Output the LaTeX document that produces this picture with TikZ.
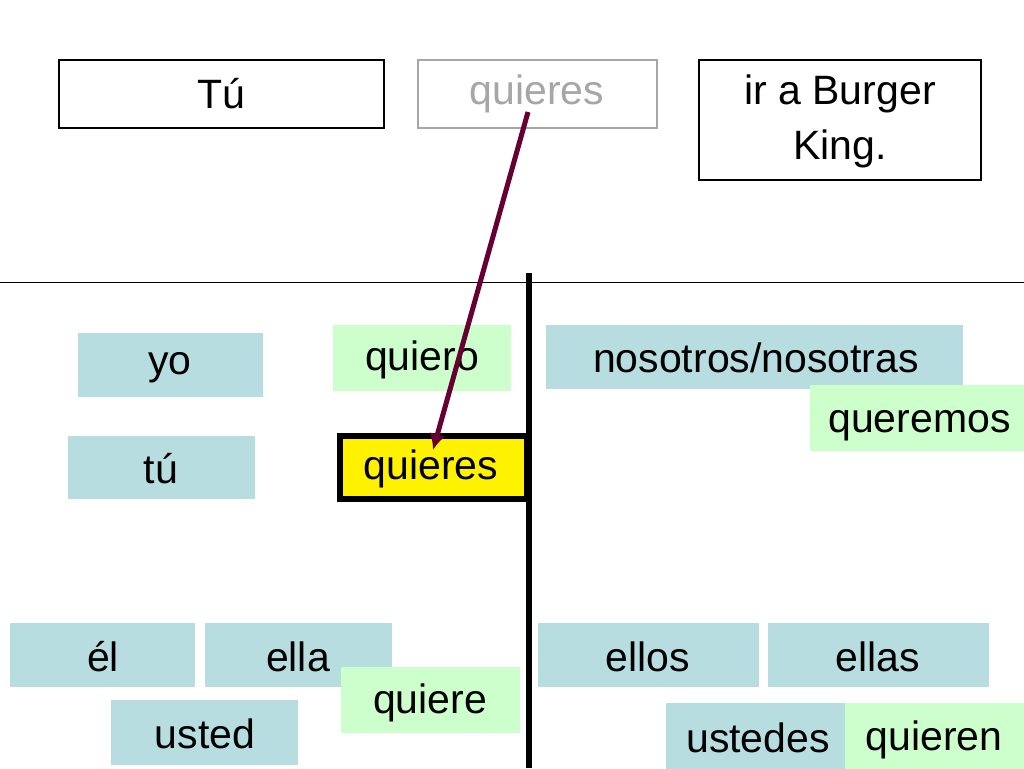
\documentclass[tikz,border=0pt]{standalone}
\usepackage{fontspec}
\setmainfont{Liberation Sans}
\usetikzlibrary{arrows.meta}
\definecolor{lblue}{RGB}{183,221,224}
\definecolor{lgreen}{RGB}{204,255,204}
\definecolor{maroon}{RGB}{102,0,51}
\begin{document}
\begin{tikzpicture}[x=1pt,y=-1pt,
 bx/.style={inner sep=0pt,font=\fontsize{41}{46}\selectfont,text=black},
 blu/.style={fill=lblue},
 grn/.style={fill=lgreen}]
\useasboundingbox (0,0) rectangle (1024,768);
\clip (0,0) rectangle (1024,768);
\draw[line width=2pt] (59,60) rectangle (384,128); \node[bx] (tu0) at (221,94) {Tú};
\draw[line width=2pt,gray!70] (418,60) rectangle (657,128); \node[bx,text=gray!70] (q0) at (537,94) {quieres};
\draw[line width=2pt] (699,60) rectangle (981,180);
\node[bx,align=center,font=\fontsize{41}{55}\selectfont] (bk) at (840,121) {ir a Burger\\King.};
\draw[line width=0.8pt] (0,282) -- (1024,282);
\fill[blu] (78,333) rectangle (263,397); \node[bx] (yo) at (170,368) {yo};
\fill[grn] (333,325) rectangle (511,391); \node[bx] (quiero) at (422,360) {quiero};
\fill[blu] (546,325) rectangle (963,389); \node[bx] (nos) at (756,358) {nosotros/nosotras};
\fill[grn] (810,385) rectangle (1030,451); \node[bx,anchor=west] (quer) at (828,426) {queremos};
\fill[blu] (68,436) rectangle (255,499); \node[bx] (tu) at (161,469) {tú};
\draw[line width=6pt,fill=yellow] (340,436) rectangle (527,499); \node[bx] (qs) at (431,469) {quieres};
\fill[blu] (10,623) rectangle (195,687); \node[bx] (el) at (103,657) {él};
\fill[blu] (205,623) rectangle (392,687); \node[bx] (ella) at (298,657) {ella};
\fill[grn] (341,667) rectangle (520,733); \node[bx] (quiere) at (430,703) {quiere};
\fill[blu] (111,700) rectangle (298,765); \node[bx] (usted) at (205,734) {usted};
\fill[blu] (538,623) rectangle (759,687); \node[bx] (ellos) at (648,657) {ellos};
\fill[blu] (768,623) rectangle (989,687); \node[bx] (ellas) at (878,657) {ellas};
\fill[blu] (666,703) rectangle (880,770); \node[bx] (ustedes) at (758,738) {ustedes};
\fill[grn] (845,703) rectangle (1030,770); \node[bx] (quieren) at (934,740) {quieren};
\draw[line width=6pt] (529,273) -- (529,768);
\coordinate (a) at (528,112); \coordinate (b) at (433,450);
\draw[line width=5pt,color=maroon,-{Latex[length=16pt,width=16pt]}] (a) -- (b);
\end{tikzpicture}
\end{document}
